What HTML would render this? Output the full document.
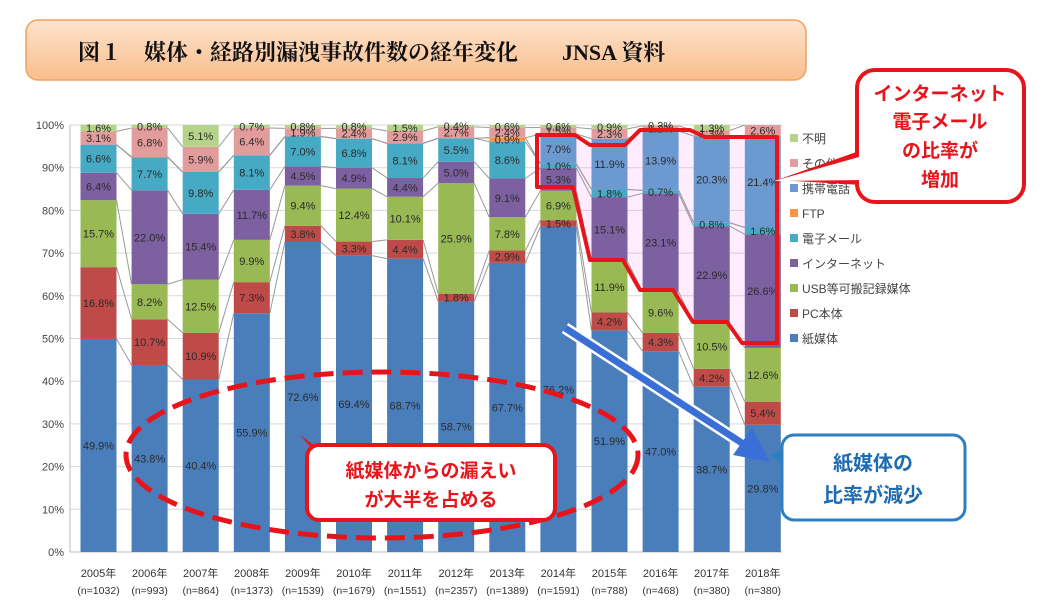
<!DOCTYPE html>
<html><head><meta charset="utf-8"><style>
body{margin:0;background:#fff;width:1043px;height:605px;overflow:hidden;font-family:"Liberation Sans","Noto Sans CJK JP",sans-serif}
</style></head><body>
<svg width="1043" height="605" viewBox="0 0 1043 605" xmlns="http://www.w3.org/2000/svg">
<defs><linearGradient id="tg" x1="0" y1="0" x2="0" y2="1"><stop offset="0" stop-color="#fde3cc"/><stop offset="1" stop-color="#f9be8e"/></linearGradient></defs>
<g id="title">
<rect x="26" y="20" width="780" height="60" rx="12" fill="url(#tg)" stroke="#f0a060" stroke-width="1.5"/>
<text x="78" y="60" font-size="22" font-weight="bold" font-family="'Liberation Serif','Noto Serif CJK SC',serif" fill="#111">図１　媒体・経路別漏洩事故件数の経年変化　　JNSA 資料</text>
</g>
<g id="grid"></g>
<polygon points="537,135 575,135 590,145 625,145 640,130 690,130 705,137 777,137 777,343 742,343 727,322 693,322 673,290 640,290 623,260 590,260 573,187 537,187" fill="#ff66ff" fill-opacity="0.12" stroke="none"/>
<g id="bars"></g>
<g id="legend"></g>
</svg>
<script>
const NS="http://www.w3.org/2000/svg";
const years=["2005年","2006年","2007年","2008年","2009年","2010年","2011年","2012年","2013年","2014年","2015年","2016年","2017年","2018年"];
const counts=["(n=1032)","(n=993)","(n=864)","(n=1373)","(n=1539)","(n=1679)","(n=1551)","(n=2357)","(n=1389)","(n=1591)","(n=788)","(n=468)","(n=380)","(n=380)"];
const seriesNames=["紙媒体","PC本体","USB等可搬記録媒体","インターネット","電子メール","FTP","携帯電話","その他","不明"];
const seriesColors=["#4a7ebb","#be4b48","#98b954","#7d60a0","#46aac4","#f79646","#6c9ad0","#e39c9c","#b5d48a"];
const paper=[49.9,43.8,40.4,55.9,72.6,69.4,68.7,58.7,67.7,76.2,51.9,47.0,38.7,29.8];
const pc=[16.8,10.7,10.9,7.3,3.8,3.3,4.4,1.8,2.9,1.5,4.2,4.3,4.2,5.4];
const usb=[15.7,8.2,12.5,9.9,9.4,12.4,10.1,25.9,7.8,6.9,11.9,9.6,10.5,12.6];
const internet=[6.4,22.0,15.4,11.7,4.5,4.9,4.4,5.0,9.1,5.3,15.1,23.1,22.9,26.6];
const email=[6.6,7.7,9.8,8.1,7.0,6.8,8.1,5.5,8.6,1.0,1.8,0.7,0.8,1.6];
const ftp=[0,0.1,0,0,0,0,0,0,0.9,0,0,0,0,0];
const mobile=[0,0,0,0,0,0,0,0,0,7.0,11.9,13.9,20.3,21.4];
const other=[3.1,6.8,5.9,6.4,1.9,2.4,2.9,2.7,2.4,1.5,2.3,1.2,1.3,2.6];
const unknown=[1.6,0.8,5.1,0.7,0.8,0.8,1.5,0.4,0.6,0.6,0.9,0.2,1.3,0.0];
const yTicks=[0,10,20,30,40,50,60,70,80,90,100];
const series=[paper,pc,usb,internet,email,ftp,mobile,other,unknown];
const X0=98.5,STEP=51.1,BW=36,Y0=552,Y100=125;
const xc=i=>X0+i*STEP;
const y=v=>Y0-(Y0-Y100)*v/100;
function mk(t,a,p){const e=document.createElementNS(NS,t);for(const k in a)e.setAttribute(k,a[k]);if(p)p.appendChild(e);return e;}
const grid=document.getElementById('grid');
yTicks.forEach(t=>{
 const l=mk('line',{x1:70,x2:782,y1:y(t),y2:y(t),stroke:'#d9d9d9','stroke-width':1},grid);
 
 
 const tx=mk('text',{x:64,y:y(t)+4,'font-size':11,'text-anchor':'end',fill:'#444'},grid);
 tx.textContent=t+'%';
 
 
});
mk('line',{x1:70,x2:70,y1:Y100,y2:Y0,stroke:'#bbb'},grid);
mk('line',{x1:70,x2:782,y1:Y0,y2:Y0,stroke:'#bbb'},grid);
const bars=document.getElementById('bars');
const cum=years.map((_,i)=>{let c=[0];series.forEach(s=>c.push(c[c.length-1]+s[i]));return c;});
for(let i=0;i<years.length-1;i++){
 for(let k=1;k<series.length;k++){
  const ln=mk('line',{x1:xc(i)+BW/2,x2:xc(i+1)-BW/2,y1:y(cum[i][k]),y2:y(cum[i+1][k]),stroke:'#999','stroke-width':1},bars);
  
  
 }
}
years.forEach((yr,i)=>{
 series.forEach((s,k)=>{
  const v=s[i];if(v<=0)return;
  const r=mk('rect',{x:xc(i)-BW/2,y:y(cum[i][k+1]),width:BW,height:y(cum[i][k])-y(cum[i][k+1]),fill:seriesColors[k]},bars);
  
  
 });
 series.forEach((s,k)=>{
  const v=s[i];if(v<0.2)return;
  const t=mk('text',{x:xc(i),y:(y(cum[i][k])+y(cum[i][k+1]))/2+4,'font-size':11,'text-anchor':'middle',fill:'#2a2a2a'},bars);
  t.textContent=v.toFixed(1)+'%';
  
  
 });
 const a=mk('text',{x:xc(i),y:577,'font-size':11,'text-anchor':'middle',fill:'#333'},bars);
 a.textContent=yr;
 
 
 const b=mk('text',{x:xc(i),y:594,'font-size':10.5,'text-anchor':'middle',fill:'#333'},bars);
 b.textContent=counts[i];
 
 
});
const lg=document.getElementById('legend');
for(let k=series.length-1;k>=0;k--){
 const yy=138+(series.length-1-k)*25;
 const g=mk('g',{},lg);
 
 
 mk('rect',{x:790,y:yy-4,width:8,height:8,fill:seriesColors[k]},g);
 const t=mk('text',{x:802,y:yy+5,'font-size':12,fill:'#444'},g);
 t.textContent=seriesNames[k];
}
</script>
<svg style="position:absolute;left:0;top:0" width="1043" height="605">
<polygon points="537,135 575,135 590,145 625,145 640,130 690,130 705,137 777,137 777,343 742,343 727,322 693,322 673,290 640,290 623,260 590,260 573,187 537,187" fill="none" stroke="#e8141c" stroke-width="4" stroke-linejoin="round"/>
<g>
<polygon points="777,180 862,150 862,185" fill="#e8141c"/>
<rect x="857" y="70" width="167" height="132" rx="18" fill="#fff" stroke="#e8141c" stroke-width="4"/>
<polygon points="774,181 866,155 866,180" fill="#fff"/>
<text x="940" y="100" font-size="19" font-weight="bold" fill="#e8141c" text-anchor="middle">インターネット</text>
<text x="940" y="128" font-size="19" font-weight="bold" fill="#e8141c" text-anchor="middle">電子メール</text>
<text x="940" y="157" font-size="19" font-weight="bold" fill="#e8141c" text-anchor="middle">の比率が</text>
<text x="940" y="186" font-size="19" font-weight="bold" fill="#e8141c" text-anchor="middle">増加</text>
</g>
<ellipse cx="382" cy="455" rx="256" ry="83" fill="none" stroke="#e8141c" stroke-width="5" stroke-dasharray="20,9"/>
<g>
<polygon points="300,435 335,460 335,475" fill="#e8141c"/>
<rect x="307" y="445" width="248" height="75" rx="12" fill="#fff" stroke="#e8141c" stroke-width="4"/>
<text x="431" y="477" font-size="19" font-weight="bold" fill="#e8141c" text-anchor="middle">紙媒体からの漏えい</text>
<text x="431" y="506" font-size="19" font-weight="bold" fill="#e8141c" text-anchor="middle">が大半を占める</text>
</g>
<g>
<line x1="565" y1="328" x2="745" y2="445" stroke="#fff" stroke-width="12"/>
<line x1="565" y1="328" x2="745" y2="445" stroke="#3a6fd8" stroke-width="7"/>
<polygon points="770,462 733,455 752,428" fill="#3a6fd8"/>
</g>
<g>
<polygon points="770,455 790,448 790,470" fill="#2e7fc2"/>
<rect x="782" y="435" width="183" height="85" rx="12" fill="#fff" stroke="#2e7fc2" stroke-width="3"/>
<text x="873" y="470" font-size="20" font-weight="bold" fill="#1f6cb0" text-anchor="middle">紙媒体の</text>
<text x="873" y="502" font-size="20" font-weight="bold" fill="#1f6cb0" text-anchor="middle">比率が減少</text>
</g>
</svg>
</body></html>
